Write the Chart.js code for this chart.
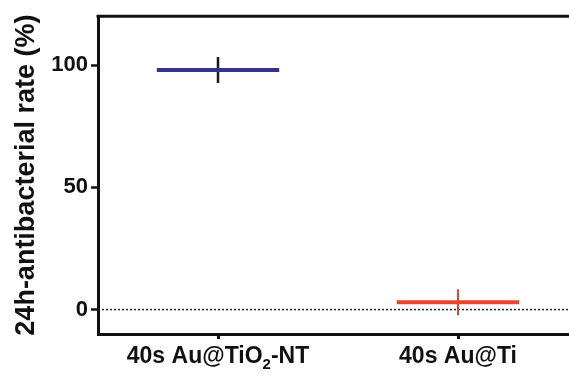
<!DOCTYPE html>
<html>
<head>
<meta charset="utf-8">
<script src="https://cdn.jsdelivr.net/npm/chart.js@4/dist/chart.umd.min.js"></script>
<style>
  body { margin: 0; background: #fff; }
  #wrap { width: 569px; height: 377px; position: relative; }
</style>
</head>
<body>
<div id="wrap"><canvas id="chart"></canvas></div>
<script>
// data
const groups = ['40s Au@TiO\u2082-NT', '40s Au@Ti'];
const means = [98, 3];
const sds = [5.3, 5.3];
const yTicks = [0, 50, 100];

const lineColors = ['#33338a', '#e8452c'];
const errColors = ['#1a1a1a', '#e8452c'];
const halfWidth = 0.255;
const FONT = 'Liberation Sans, Arial, sans-serif';

const datasets = [];
groups.forEach((g, i) => {
  datasets.push({
    label: g + ' mean',
    data: [{ x: i - halfWidth, y: means[i] }, { x: i + halfWidth, y: means[i] }],
    showLine: true,
    borderColor: lineColors[i],
    borderWidth: 4,
    pointRadius: 0,
  });
  datasets.push({
    label: g + ' sd',
    data: [{ x: i, y: means[i] - sds[i] }, { x: i, y: means[i] + sds[i] }],
    showLine: true,
    borderColor: errColors[i],
    borderWidth: i === 0 ? 2.5 : 2,
    pointRadius: 0,
  });
});

// split a label into normal / subscript runs (unicode subscript digits)
function runs(label) {
  const out = [];
  for (const ch of label) {
    const code = ch.charCodeAt(0);
    const sub = code >= 0x2080 && code <= 0x2089;
    const c = sub ? String(code - 0x2080) : ch;
    if (out.length && out[out.length - 1].sub === sub) out[out.length - 1].text += c;
    else out.push({ text: c, sub });
  }
  return out;
}

const extras = {
  id: 'extras',
  beforeDatasetsDraw(chart) {
    const { ctx, chartArea, scales } = chart;
    const y0 = scales.y.getPixelForValue(0);
    ctx.save();
    ctx.strokeStyle = '#222';
    ctx.lineWidth = 1.5;
    ctx.setLineDash([2, 2]);
    ctx.beginPath();
    ctx.moveTo(chartArea.left, y0);
    ctx.lineTo(chartArea.right, y0);
    ctx.stroke();
    ctx.restore();
  },
  afterDraw(chart) {
    const { ctx, chartArea, scales } = chart;
    ctx.save();
    ctx.strokeStyle = '#111';
    ctx.lineWidth = 3;
    ctx.beginPath();
    ctx.moveTo(chartArea.left - 1.5, chartArea.top);
    ctx.lineTo(chartArea.right, chartArea.top);
    ctx.stroke();

    // category labels with real subscripts
    const size = 23, subSize = 15;
    const base = chartArea.bottom + 29;
    ctx.fillStyle = '#111';
    ctx.textBaseline = 'alphabetic';
    ctx.textAlign = 'left';
    groups.forEach((g, i) => {
      const parts = runs(g);
      let w = 0;
      parts.forEach(p => {
        ctx.font = 'bold ' + (p.sub ? subSize : size) + 'px ' + FONT;
        p.w = ctx.measureText(p.text).width;
        w += p.w;
      });
      let x = scales.x.getPixelForValue(i) - w / 2;
      parts.forEach(p => {
        ctx.font = 'bold ' + (p.sub ? subSize : size) + 'px ' + FONT;
        ctx.fillText(p.text, x, p.sub ? base + 6 : base);
        x += p.w;
      });
    });
    ctx.restore();
  }
};

new Chart(document.getElementById('chart'), {
  type: 'scatter',
  data: { datasets },
  plugins: [extras],
  options: {
    responsive: true,
    maintainAspectRatio: false,
    animation: false,
    layout: { padding: { top: 13, right: 0, left: 0, bottom: 0 } },
    plugins: { legend: { display: false }, tooltip: { enabled: false } },
    scales: {
      x: {
        type: 'linear',
        min: -0.5,
        max: 1.4625,
        afterFit(scale) { scale.height = 43; },
        afterBuildTicks(scale) { scale.ticks = groups.map((g, i) => ({ value: i })); },
        ticks: { display: false },
        grid: { display: true, drawOnChartArea: false, drawTicks: true, tickLength: 5, tickWidth: 3, color: '#111' },
        border: { display: true, color: '#111', width: 3 },
      },
      y: {
        min: -10,
        max: 120,
        afterFit(scale) { scale.width = 98; },
        afterBuildTicks(scale) { scale.ticks = yTicks.map(v => ({ value: v })); },
        ticks: {
          color: '#111',
          font: { family: FONT, size: 22, weight: 'bold' },
          padding: 3,
        },
        grid: { display: true, drawOnChartArea: false, drawTicks: true, tickLength: 7, tickWidth: 2.5, color: '#111' },
        border: { display: true, color: '#111', width: 3 },
        title: {
          display: true,
          text: '24h-antibacterial rate (%)',
          color: '#111',
          font: { family: FONT, size: 27, weight: 'bold' },
          padding: { top: 10, bottom: 0 },
        },
      },
    },
  },
});
</script>
</body>
</html>
